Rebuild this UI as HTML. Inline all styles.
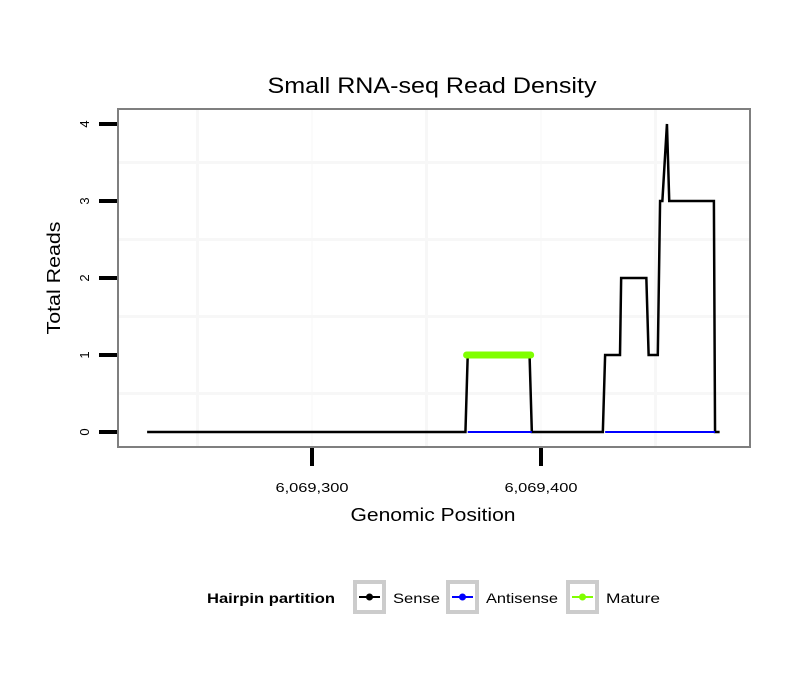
<!DOCTYPE html>
<html><head><meta charset="utf-8"><style>
body{margin:0;background:#fff;}
svg{display:block;font-family:"Liberation Sans",sans-serif;}
</style></head><body>
<svg id="chart" width="810" height="690"></svg>
<script>
const posArr=[6069228,6069367,6069368,6069395,6069396,6069427,6069428,6069434.5,6069435,6069446,6069447,6069451,6069452,6069453,6069455,6069456,6069475.5,6069476,6069478];
const senseVals=[0,0,1,1,0,0,1,1,2,2,1,1,3,3,4,3,3,0,0];
const antisenseRanges=[[6069368,6069396],[6069428,6069476]];
const matureStart=6069367.5, matureEnd=6069395.5, matureVal=1;
const xTicks=[6069300,6069400];
const xTickLabels=["6,069,300","6,069,400"];
const yTicks=[0,1,2,3,4];
const xMinor=[6069250,6069350,6069450];
const yMinor=[0.5,1.5,2.5,3.5];

const NS="http://www.w3.org/2000/svg";
const svg=document.getElementById('chart');
const L=118,R=750,T=109,B=447;
const X=v=>312+(v-6069300)*2.29;
const Y=v=>432-v*77;
function mk(tag,a,p){const e=document.createElementNS(NS,tag);for(const k in a)e.setAttribute(k,a[k]);(p||svg).appendChild(e);return e;}

const title=mk('text',{x:432,y:93,'text-anchor':'middle','font-size':22,fill:'#000',textLength:329,lengthAdjust:'spacingAndGlyphs'});title.textContent='Small RNA-seq Read Density';


const panel=mk('rect',{x:L,y:T,width:R-L,height:B-T,fill:'#fff'});


xMinor.forEach(v=>{const g=mk('line',{x1:X(v),x2:X(v),y1:T,y2:B,stroke:'#f7f7f7','stroke-width':3});

});
xTicks.forEach(v=>{const g=mk('line',{x1:X(v),x2:X(v),y1:T,y2:B,stroke:'#fbfbfb','stroke-width':2});

});
yMinor.forEach(v=>{const g=mk('line',{x1:L,x2:R,y1:Y(v),y2:Y(v),stroke:'#f7f7f7','stroke-width':3});

});

const sp=posArr.map((p,i)=>X(p)+','+Y(senseVals[i])).join(' ');
const sense=mk('polyline',{points:sp,fill:'none',stroke:'#000','stroke-width':2.5});


antisenseRanges.forEach(r=>{const a=mk('line',{x1:X(r[0]),x2:X(r[1]),y1:Y(0),y2:Y(0),stroke:'#0000ff','stroke-width':2});

});
const mat=mk('line',{x1:X(matureStart),x2:X(matureEnd),y1:Y(matureVal),y2:Y(matureVal),stroke:'#80ff00','stroke-width':7,'stroke-linecap':'round'});



const border=mk('rect',{x:L,y:T,width:R-L,height:B-T,fill:'none',stroke:'#7f7f7f','stroke-width':2});



yTicks.forEach(v=>{const t=mk('line',{x1:99,x2:117,y1:Y(v),y2:Y(v),stroke:'#000','stroke-width':4});


const l=mk('text',{x:0,y:0,transform:`translate(89,${Y(v)}) rotate(-90)`,'text-anchor':'middle','font-size':13,fill:'#000'});l.textContent=v;

});
xTicks.forEach((v,i)=>{const t=mk('line',{x1:X(v),x2:X(v),y1:448,y2:466,stroke:'#000','stroke-width':4});


const l=mk('text',{x:X(v),y:492,'text-anchor':'middle','font-size':13,fill:'#000',textLength:73,lengthAdjust:'spacingAndGlyphs'});l.textContent=xTickLabels[i];

});
const xt=mk('text',{x:433,y:521,'text-anchor':'middle','font-size':18,fill:'#000',textLength:165,lengthAdjust:'spacingAndGlyphs'});xt.textContent='Genomic Position';


const yt=mk('text',{x:0,y:0,transform:'translate(60,278) rotate(-90)','text-anchor':'middle','font-size':18,fill:'#000',textLength:113,lengthAdjust:'spacingAndGlyphs'});yt.textContent='Total Reads';



const lg=mk('g',{});


const lt=mk('text',{x:207,y:603,'font-size':14,'font-weight':'bold',fill:'#000',textLength:128,lengthAdjust:'spacingAndGlyphs'},lg);lt.textContent='Hairpin partition';


const entries=[['Sense','#000',353,47],['Antisense','#0000ff',446,72],['Mature','#80ff00',566,54]];
entries.forEach(e=>{const g=mk('g',{},lg);


mk('rect',{x:e[2]+2,y:582,width:29,height:30,fill:'#fff',stroke:'#cccccc','stroke-width':4},g);
mk('line',{x1:e[2]+6,x2:e[2]+27,y1:597,y2:597,stroke:e[1],'stroke-width':2},g);
mk('circle',{cx:e[2]+16.5,cy:597,r:3.5,fill:e[1]},g);
const t=mk('text',{x:e[2]+40,y:603,'font-size':14,fill:'#000',textLength:e[3],lengthAdjust:'spacingAndGlyphs'},g);t.textContent=e[0];});
</script>
</body></html>
